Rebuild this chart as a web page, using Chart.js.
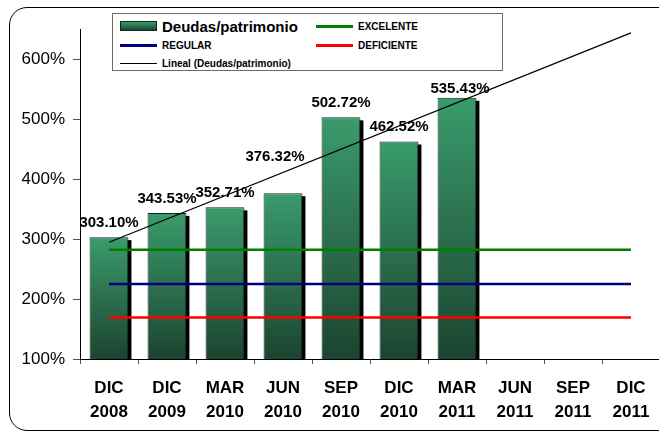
<!DOCTYPE html>
<html><head><meta charset="utf-8">
<script src="https://cdn.jsdelivr.net/npm/chart.js@4/dist/chart.umd.min.js"></script>
<style>
html,body{margin:0;padding:0;background:#fff;overflow:hidden;width:659px;height:434px;position:relative}
#frame{position:absolute;left:9px;top:7px;width:690px;height:424px;border:1.5px solid #000;border-radius:18px;box-sizing:border-box}
#wrap{position:absolute;left:0;top:0;width:680px;height:434px}
#legend{position:absolute;left:112px;top:13px;width:391px;height:58px;border:1px solid #6b6b6b;background:#fff;box-sizing:border-box;font-family:'Liberation Sans',Arial,sans-serif;font-weight:bold;color:#000}
.item{position:absolute;display:flex;align-items:center;white-space:nowrap;height:16px}
.sw{display:inline-block;margin-right:5px}
</style>
</head><body>
<div id="frame"></div>
<div id="wrap"><canvas id="c" width="680" height="434"></canvas></div>
<div id="legend"></div>
<script>
// ---- data ----
const categories = [['DIC','2008'],['DIC','2009'],['MAR','2010'],['JUN','2010'],['SEP','2010'],['DIC','2010'],['MAR','2011'],['JUN','2011'],['SEP','2011'],['DIC','2011']];
const deudasPatrimonio = [303.10, 343.53, 352.71, 376.32, 502.72, 462.52, 535.43, null, null, null];
const excelente  = [282, 282, 282, 282, 282, 282, 282, 282, 282, 282];
const regular    = [225, 225, 225, 225, 225, 225, 225, 225, 225, 225];
const deficiente = [169, 169, 169, 169, 169, 169, 169, 169, 169, 169];
const linealDeudas = [294.6, null, null, null, null, null, null, null, null, 643.4];
const yTicks = [100, 200, 300, 400, 500, 600];
const yMin = 100, yMax = 650;

const FONT = "'Liberation Sans', Arial, sans-serif";
const GREEN_TOP = '#3a9b6c', GREEN_BOT = '#1c4430';
const BAR_INDEX = 4;

function barGradient(c) {
  const chart = c.chart, ys = chart.scales && chart.scales.y;
  if (!chart.chartArea || !ys || c.raw == null) return '#2e7d55';
  const top = ys.getPixelForValue(c.raw), bot = ys.getPixelForValue(ys.min);
  const g = chart.ctx.createLinearGradient(0, top, 0, bot);
  g.addColorStop(0, GREEN_TOP);
  g.addColorStop(1, GREEN_BOT);
  return g;
}

const shadowPlugin = {
  id: 'barShadow',
  beforeDatasetsDraw(chart) {
    const meta = chart.getDatasetMeta(BAR_INDEX);
    const ctx = chart.ctx, a = chart.chartArea;
    ctx.save();
    ctx.beginPath(); ctx.rect(a.left, a.top, a.right - a.left, a.bottom - a.top); ctx.clip();
    ctx.fillStyle = '#000';
    meta.data.forEach((el, i) => {
      if (deudasPatrimonio[i] == null) return;
      const w = el.width;
      ctx.fillRect(el.x - w / 2 + 3, el.y + 3, w, el.base - el.y - 3);
    });
    ctx.restore();
  }
};

const labelPlugin = {
  id: 'barLabels',
  afterDatasetsDraw(chart, args, opts) {
    const meta = chart.getDatasetMeta(BAR_INDEX);
    const ctx = chart.ctx;
    ctx.save();
    ctx.font = 'bold 15px ' + FONT;
    ctx.fillStyle = '#000';
    ctx.textAlign = 'center';
    ctx.textBaseline = 'alphabetic';
    meta.data.forEach((el, i) => {
      const v = deudasPatrimonio[i];
      if (v == null) return;
      const n = (opts.nudge && opts.nudge[i]) || [0, 0];
      ctx.fillText(v.toFixed(2) + '%', el.x + n[0], el.y - 10 + n[1]);
    });
    ctx.restore();
  }
};

const chart = new Chart(document.getElementById('c'), {
  data: {
    labels: categories,
    datasets: [
      { type: 'line', label: 'EXCELENTE', data: excelente, borderColor: '#008000', borderWidth: 2.5, pointRadius: 0, order: 1 },
      { type: 'line', label: 'REGULAR', data: regular, borderColor: '#000080', borderWidth: 2.5, pointRadius: 0, order: 1 },
      { type: 'line', label: 'DEFICIENTE', data: deficiente, borderColor: '#ff0000', borderWidth: 2.5, pointRadius: 0, order: 1 },
      { type: 'line', label: 'Lineal (Deudas/patrimonio)', data: linealDeudas, borderColor: '#000', borderWidth: 1.3, pointRadius: 0, spanGaps: true, order: 0 },
      { type: 'bar', label: 'Deudas/patrimonio', data: deudasPatrimonio, backgroundColor: barGradient, borderColor: '#10261a', borderWidth: 1, barPercentage: 0.67, categoryPercentage: 1, order: 5 }
    ]
  },
  options: {
    responsive: false,
    animation: false,
    devicePixelRatio: 1,
    layout: { padding: { left: 0, right: 20, top: 29, bottom: 0 } },
    plugins: {
      legend: { display: false },
      tooltip: { enabled: false },
      barLabels: { nudge: { 3: [-8, -22], 6: [3, 5] } }
    },
    scales: {
      x: {
        offset: true,
        grid: { display: true, drawOnChartArea: false, offset: true, tickLength: 5, color: '#555' },
        border: { color: '#000', width: 1 },
        ticks: { color: '#000', font: { family: FONT, size: 17, weight: 'bold', lineHeight: 1.42 }, padding: 12, maxRotation: 0, autoSkip: false },
        afterFit(s) { s.height = 75; }
      },
      y: {
        min: yMin, max: yMax,
        grid: { display: true, drawOnChartArea: false, tickLength: 7, color: '#555' },
        border: { color: '#000', width: 1 },
        ticks: { stepSize: 100, color: '#000', padding: 8, font: { family: FONT, size: 17 }, callback: v => v + '%' },
        afterBuildTicks(axis) { axis.ticks = yTicks.map(v => ({ value: v })); },
        afterFit(s) { s.width = 80; }
      }
    }
  },
  plugins: [shadowPlugin, labelPlugin]
});

// HTML legend built from the chart's datasets
(function () {
  const lg = document.getElementById('legend');
  const ds = chart.data.datasets;
  const byLabel = l => ds.find(d => d.label === l);
  const spec = [
    { d: byLabel('Deudas/patrimonio'), left: 7, cy: 12, bar: true, size: 15 },
    { d: byLabel('EXCELENTE'), left: 203, cy: 12, size: 10 },
    { d: byLabel('REGULAR'), left: 7, cy: 31, size: 10 },
    { d: byLabel('DEFICIENTE'), left: 203, cy: 31, size: 10 },
    { d: byLabel('Lineal (Deudas/patrimonio)'), left: 7, cy: 49, size: 10 }
  ];
  spec.forEach(s => {
    const it = document.createElement('div');
    it.className = 'item';
    it.style.left = s.left + 'px';
    it.style.top = (s.cy - 8) + 'px';
    const sw = document.createElement('span');
    sw.className = 'sw';
    if (s.bar) {
      sw.style.width = '37px'; sw.style.height = '10px';
      sw.style.background = 'linear-gradient(' + GREEN_TOP + ',' + GREEN_BOT + ')';
      sw.style.border = '1px solid #10261a'; sw.style.boxSizing = 'border-box';
    } else {
      sw.style.width = '37px';
      sw.style.height = (s.d.borderWidth >= 2 ? 3 : 1) + 'px';
      sw.style.background = s.d.borderColor;
    }
    const tx = document.createElement('span');
    tx.textContent = s.d.label;
    tx.style.fontSize = s.size + 'px';
    it.appendChild(sw); it.appendChild(tx);
    lg.appendChild(it);
  });
})();
</script>
</body></html>
